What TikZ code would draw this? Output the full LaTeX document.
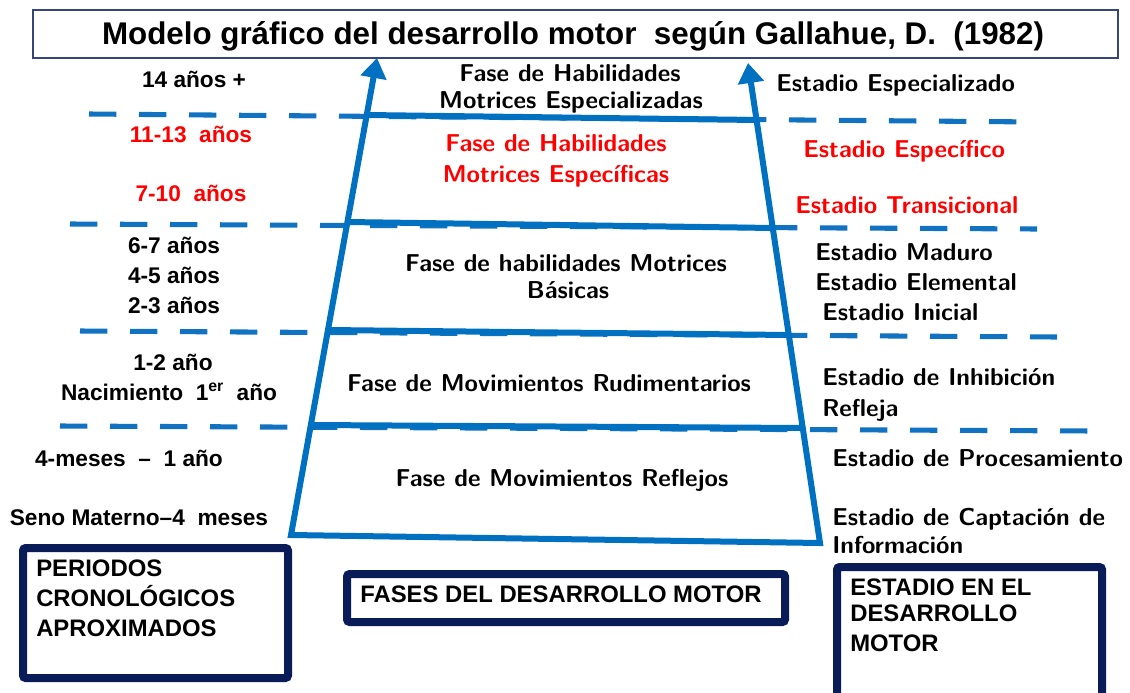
\documentclass[tikz,border=0pt]{standalone}
\usepackage{fontspec}
\newfontfamily\arialfont{Liberation Sans}
\usetikzlibrary{arrows.meta,calc}
\definecolor{trapblue}{RGB}{0,112,192}
\definecolor{dashblue}{RGB}{16,114,192}
\definecolor{navybox}{RGB}{10,28,88}
\definecolor{titleframe}{RGB}{55,70,120}
\definecolor{redtxt}{RGB}{255,0,0}
\begin{document}
\begin{tikzpicture}[x=0.75pt,y=-0.75pt,
  ttl/.style={font=\arialfont\bfseries\fontsize{23.5}{28}\selectfont, inner sep=0pt, text height=16.5pt, text depth=0pt},
  agelbl/.style={font=\arialfont\bfseries\fontsize{17}{20}\selectfont, inner sep=0pt, text height=12pt, text depth=0pt},
  phase/.style={font=\sffamily\bfseries\fontsize{18.3}{22}\selectfont, inner sep=0pt, text height=12.5pt, text depth=0pt},
  stage/.style={phase, anchor=west},
  boxtxt/.style={font=\arialfont\bfseries\fontsize{17.9}{21}\selectfont, inner sep=0pt, text height=12.8pt, text depth=0pt, anchor=west},
  dashline/.style={draw=dashblue, line width=3.8pt, dash pattern=on 20.5pt off 17pt},
  trap/.style={draw=trapblue, line width=4.5pt, line join=miter},
  legendbox/.style={draw=navybox, line width=6pt, rounded corners=2pt},
  tiphead/.style={Triangle[width=19pt,length=15pt]}
]
\useasboundingbox (0,0) rectangle (1130,692);
\fill[white] (0,0) rectangle (1130,692);

% ---------- dashed separators ----------
\coordinate (d1a) at (89,114);  \coordinate (d1b) at (1038,122);
\coordinate (d2a) at (70,224);  \coordinate (d2b) at (1037,229);
\coordinate (d3a) at (80,331);  \coordinate (d3b) at (1057,337);
\coordinate (d4a) at (60,426);  \coordinate (d4b) at (1093,431);
\draw[dashline] (d1a) -- (d1b);
\draw[dashline] (d2a) -- (d2b);
\draw[dashline] (d3a) -- (d3b);
\draw[dashline] (d4a) -- (d4b);

% ---------- trapezoid with arrows ----------
\coordinate (bl) at (291,535);
\coordinate (br) at (820,543);
\coordinate (tl) at (377,58);
\coordinate (tr) at (748,63);
\draw[trap, {Triangle[width=19pt,length=15pt]}-{Triangle[width=19pt,length=15pt]}] (tl) -- (bl) -- (br) -- (tr);
\coordinate (h1l) at (366.7,115); \coordinate (h1r) at (756.5,120);
\coordinate (h2l) at (347.4,222); \coordinate (h2r) at (772.7,228);
\coordinate (h3l) at (328,330);   \coordinate (h3r) at (788.8,335);
\coordinate (h4l) at (310.8,425); \coordinate (h4r) at (802.7,428);
\draw[trap] (h1l) -- (h1r);
\draw[trap] (h2l) -- (h2r);
\draw[trap] (h3l) -- (h3r);
\draw[trap] (h4l) -- (h4r);

% ---------- title ----------
\draw[draw=titleframe, line width=1.5pt] (33,10) rectangle (1118,58);
\node[ttl] (title) at (573,34) {Modelo gráfico del desarrollo motor\ \ según Gallahue, D.\ \ (1982)};

% ---------- left: chronological periods ----------
\node[agelbl] (a14) at (194,79) {14 años +};
\node[agelbl, text=redtxt] (a11) at (191,134) {11-13\ \ años};
\node[agelbl, text=redtxt] (a7) at (191,193) {7-10\ \ años};
\node[agelbl] (a6) at (174,245) {6-7 años};
\node[agelbl] (a4) at (174,275) {4-5 años};
\node[agelbl] (a2) at (174,305) {2-3 años};
\node[agelbl] (a1) at (173,362) {1-2 año};
\node[agelbl] (anac) at (169,392) {Nacimiento\ \ 1\textsuperscript{er}\ \ año};
\node[agelbl] (a4m) at (129,458) {4-meses\ \ –\ \ 1 año};
\node[agelbl] (aseno) at (139,517) {Seno Materno–4\ \ meses};

% ---------- middle: phases ----------
\node[phase] (p1a) at (570,73) {Fase de Habilidades};
\node[phase] (p1b) at (571,100) {Motrices Especializadas};
\node[phase, text=redtxt] (p2a) at (556,143) {Fase de Habilidades};
\node[phase, text=redtxt] (p2b) at (556,174) {Motrices Específicas};
\node[phase] (p3a) at (566,263) {Fase de habilidades Motrices};
\node[phase] (p3b) at (568,290) {Básicas};
\node[phase] (p4) at (549,383) {Fase de Movimientos Rudimentarios};
\node[phase] (p5) at (562,478) {Fase de Movimientos Reflejos};

% ---------- right: stages ----------
\node[stage] (s1) at (776,83) {Estadio Especializado};
\node[stage, text=redtxt] (s2) at (803,149) {Estadio Específico};
\node[stage, text=redtxt] (s3) at (795,205) {Estadio Transicional};
\node[stage] (s4) at (815,252) {Estadio Maduro};
\node[stage] (s5) at (815,282) {Estadio Elemental};
\node[stage] (s6) at (822,312) {Estadio Inicial};
\node[stage] (s7a) at (822,377) {Estadio de Inhibición};
\node[stage] (s7b) at (822,408) {Refleja};
\node[stage] (s8) at (832,458) {Estadio de Procesamiento};
\node[stage] (s9a) at (832,517) {Estadio de Captación de};
\node[stage] (s9b) at (832,545) {Información};

% ---------- legend boxes ----------
\draw[legendbox] (23,548) rectangle (288,678);
\node[boxtxt] (l1a) at (36,568) {PERIODOS};
\node[boxtxt] (l1b) at (36,598) {CRONOLÓGICOS};
\node[boxtxt] (l1c) at (36,628) {APROXIMADOS};

\draw[legendbox] (347,574) rectangle (785,622);
\node[boxtxt] (l2) at (360,594) {FASES DEL DESARROLLO MOTOR};

\draw[legendbox] (837,567) rectangle (1102,698);
\node[boxtxt] (l3a) at (850,587) {ESTADIO EN EL};
\node[boxtxt] (l3b) at (850,613) {DESARROLLO};
\node[boxtxt] (l3c) at (850,643) {MOTOR};
\end{tikzpicture}
\end{document}
